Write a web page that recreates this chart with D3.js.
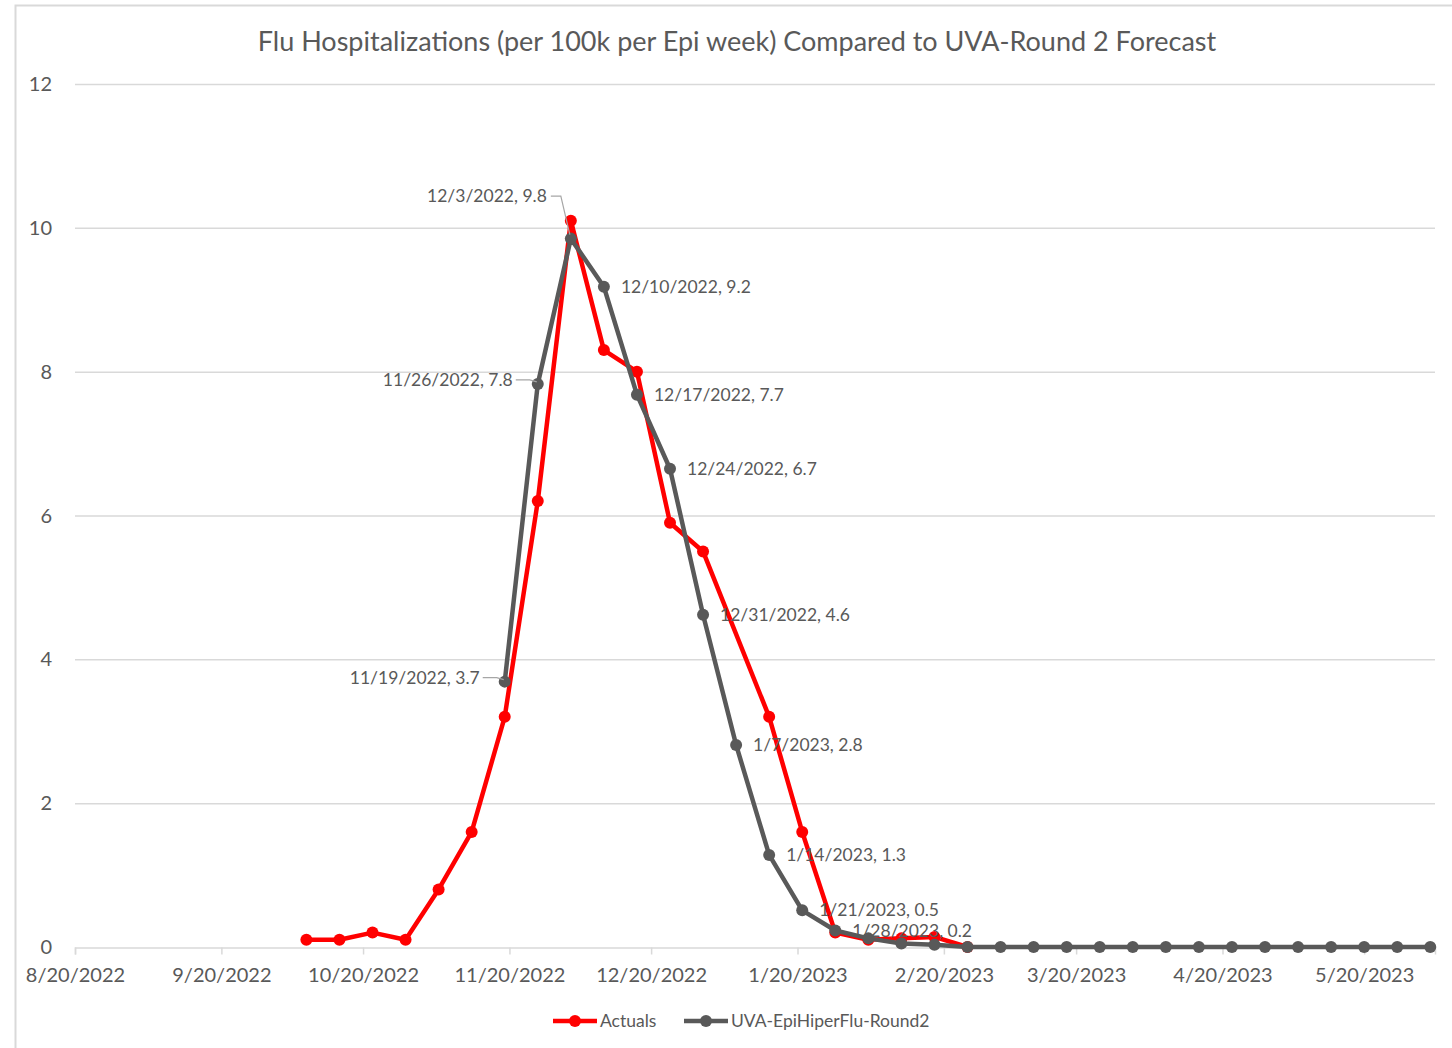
<!DOCTYPE html>
<html><head><meta charset="utf-8">
<script src="https://cdn.jsdelivr.net/npm/d3@7"></script>
<style>
body{margin:0;background:#fff;}
svg text{font-family:Lato,"Open Sans",sans-serif;fill:#595959;}
</style></head>
<body><svg id="c" width="1452" height="1048"></svg>
<script>
const title = "Flu Hospitalizations (per 100k per Epi week) Compared to UVA-Round 2 Forecast";
const seriesNames = ["Actuals", "UVA-EpiHiperFlu-Round2"];
const actualDates = ["2022-10-08","2022-10-15","2022-10-22","2022-10-29","2022-11-05","2022-11-12","2022-11-19","2022-11-26","2022-12-03","2022-12-10","2022-12-17","2022-12-24","2022-12-31","2023-01-14","2023-01-21","2023-01-28","2023-02-04","2023-02-11","2023-02-18","2023-02-25"];
const actualValues = [0.1,0.1,0.2,0.1,0.8,1.6,3.2,6.2,10.1,8.3,8.0,5.9,5.5,3.2,1.6,0.2,0.1,0.12,0.14,0];
const forecastDates = ["2022-11-19","2022-11-26","2022-12-03","2022-12-10","2022-12-17","2022-12-24","2022-12-31","2023-01-07","2023-01-14","2023-01-21","2023-01-28","2023-02-04","2023-02-11","2023-02-18","2023-02-25","2023-03-04","2023-03-11","2023-03-18","2023-03-25","2023-04-01","2023-04-08","2023-04-15","2023-04-22","2023-04-29","2023-05-06","2023-05-13","2023-05-20","2023-05-27","2023-06-03"];
const forecastValues = [3.69,7.83,9.85,9.18,7.68,6.65,4.62,2.81,1.28,0.51,0.23,0.12,0.05,0.03,0,0,0,0,0,0,0,0,0,0,0,0,0,0,0];
const forecastLabels = ["11/19/2022, 3.7","11/26/2022, 7.8","12/3/2022, 9.8","12/10/2022, 9.2","12/17/2022, 7.7","12/24/2022, 6.7","12/31/2022, 4.6","1/7/2023, 2.8","1/14/2023, 1.3","1/21/2023, 0.5","1/28/2023, 0.2"];
const xTickDates = ["2022-08-20","2022-09-20","2022-10-20","2022-11-20","2022-12-20","2023-01-20","2023-02-20","2023-03-20","2023-04-20","2023-05-20"];
const yTicks = [0,2,4,6,8,10,12];
const xDomain = ["2022-08-20","2023-06-04"];
const yDomain = [0,12];

const parse = d3.utcParse("%Y-%m-%d");
const fmt = d => (d.getUTCMonth()+1)+"/"+d.getUTCDate()+"/"+d.getUTCFullYear();
const svg = d3.select("#c");

// chart border
svg.append("rect").attr("x",15.5).attr("y",5.5).attr("width",1500).attr("height",1100)
  .attr("fill","none").attr("stroke","#d9d9d9").attr("stroke-width",2);

const x = d3.scaleUtc().domain(xDomain.map(parse)).range([75,1435]);
const y = d3.scaleLinear().domain(yDomain).range([947,84]);

svg.append("text").attr("x",737).attr("y",51).attr("text-anchor","middle")
  .style("font-size","27px").text(title);

// gridlines
svg.append("g").selectAll("line").data(yTicks.filter(v=>v>0)).join("line")
  .attr("x1",75).attr("x2",1435).attr("y1",d=>y(d)+0.5).attr("y2",d=>y(d)+0.5)
  .attr("stroke","#d9d9d9").attr("stroke-width",1.5);

// y labels
svg.append("g").selectAll("text").data(yTicks).join("text")
  .attr("x",52).attr("y",d=>y(d)).attr("dy","0.35em").attr("text-anchor","end")
  .style("font-size","20px").text(d=>d);

// x axis
const xAxis = d3.axisBottom(x).tickValues(xTickDates.map(parse)).tickFormat(fmt).tickSize(7).tickPadding(13);
const gx = svg.append("g").attr("transform","translate(0,947.5)").call(xAxis);
gx.select(".domain").attr("stroke","#d9d9d9").attr("stroke-width",1.5);
gx.selectAll(".tick line").attr("stroke","#d9d9d9").attr("stroke-width",1.5);
gx.selectAll(".tick text").style("font-size","20px").style("font-family","Lato").attr("fill","#595959");

const red = "#ff0000", gray = "#595959";
const actual = actualDates.map((d,i)=>({d:parse(d),v:actualValues[i]}));
const fc = forecastDates.map((d,i)=>({d:parse(d),v:forecastValues[i]}));
const line = d3.line().x(p=>x(p.d)).y(p=>y(p.v));

svg.append("path").datum(actual).attr("d",line).attr("fill","none").attr("stroke",red).attr("stroke-width",4.5).attr("stroke-linejoin","round");
svg.append("g").selectAll("circle").data(actual).join("circle")
  .attr("cx",p=>x(p.d)).attr("cy",p=>y(p.v)).attr("r",6).attr("fill",red);

svg.append("path").datum(fc).attr("d",line).attr("fill","none").attr("stroke",gray).attr("stroke-width",4.5).attr("stroke-linejoin","round");
svg.append("g").selectAll("circle").data(fc).join("circle")
  .attr("cx",p=>x(p.d)).attr("cy",p=>y(p.v)).attr("r",6).attr("fill",gray);

// data labels
const lg = svg.append("g");
forecastLabels.forEach((t,i)=>{
  const px = x(fc[i].d), py = y(fc[i].v);
  if (i===0 || i===1) {
    const ly = py - 4;
    const tx = px - 25;
    lg.append("text").attr("x",tx).attr("y",ly).attr("dy","0.35em").attr("text-anchor","end").style("font-size","17.5px").text(t);
    lg.append("polyline").attr("points",`${tx+3},${ly} ${px-8},${ly} ${px-1},${py-2}`).attr("fill","none").attr("stroke","#a6a6a6").attr("stroke-width",1.2);
  } else if (i===2) {
    const ly = y(9.8) - 46;
    const tx = px - 24;
    lg.append("text").attr("x",tx).attr("y",ly).attr("dy","0.35em").attr("text-anchor","end").style("font-size","17.5px").text(t);
    lg.append("polyline").attr("points",`${tx+4},${ly} ${px-10},${ly} ${px-1},${py-4}`).attr("fill","none").attr("stroke","#a6a6a6").attr("stroke-width",1.2);
  } else {
    lg.append("text").attr("x",px+17).attr("y",py).attr("dy","0.35em").style("font-size","17.5px").text(t);
  }
});

// legend
const legend = svg.append("g");
[[553,red,seriesNames[0]],[684,gray,seriesNames[1]]].forEach(([lx,c,name])=>{
  legend.append("line").attr("x1",lx).attr("x2",lx+44).attr("y1",1021).attr("y2",1021).attr("stroke",c).attr("stroke-width",4.5);
  legend.append("circle").attr("cx",lx+22).attr("cy",1021).attr("r",6).attr("fill",c);
  legend.append("text").attr("x",lx+47).attr("y",1021).attr("dy","0.35em").style("font-size","17.5px").text(name);
});
</script></body></html>
